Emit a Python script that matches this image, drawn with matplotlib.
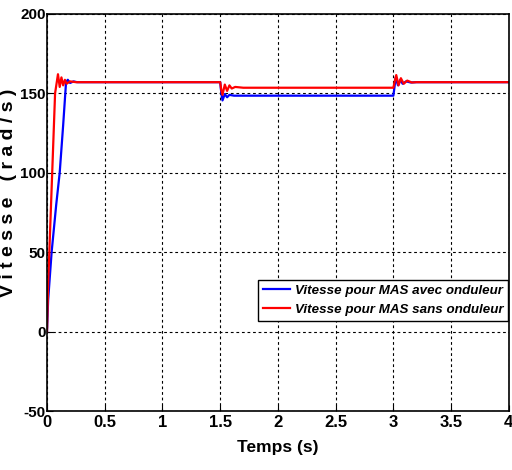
import matplotlib.pyplot as plt

# speed with inverter (blue)
t_avec = [0, 0.01, 0.04, 0.08, 0.11, 0.14, 0.165, 0.18, 0.2, 0.23, 0.26, 0.3,
          1.5, 1.51, 1.52, 1.54, 1.56, 1.58, 1.62, 1.7,
          3.0, 3.01, 3.02, 3.04, 3.06, 3.08, 3.11, 3.15, 3.2, 4.0]
v_avec = [0, 20, 50, 80, 100, 130, 157, 158.5, 156.5, 157.5, 157, 157,
          157, 150, 145.5, 149.5, 147.5, 149, 148.5, 148.5,
          148.5, 154, 160, 155, 158.5, 156, 157.5, 156.8, 157, 157]

# speed without inverter (red)
t_sans = [0, 0.01, 0.02, 0.05, 0.07, 0.095, 0.11, 0.125, 0.14, 0.155, 0.17, 0.2, 0.25,
          1.5, 1.51, 1.52, 1.54, 1.56, 1.58, 1.6, 1.63, 1.7,
          3.0, 3.01, 3.025, 3.045, 3.065, 3.09, 3.12, 3.16, 3.2, 4.0]
v_sans = [0, 30, 50, 110, 150, 162, 154, 160, 155, 158.5, 156, 157.5, 157,
          157, 152, 149, 155.5, 151.5, 155, 153, 154, 153.5,
          153.5, 157, 161.5, 155, 159.5, 156, 158, 156.8, 157, 157]

xticks = [0, 0.5, 1, 1.5, 2, 2.5, 3, 3.5, 4]
xlabels = ['0', '0.5', '1', '1.5', '2', '2.5', '3', '3.5', '4']
yticks = [-50, 0, 50, 100, 150, 200]

plt.rcParams['font.family'] = ['Liberation Sans', 'DejaVu Sans']
plt.rcParams['axes.unicode_minus'] = False

fig = plt.figure(figsize=(5.12, 4.7), dpi=100)
ax = fig.add_axes([0.0918, 0.1255, 0.902, 0.845])

ax.plot(t_avec, v_avec, color='blue', lw=1.6, label='Vitesse pour MAS avec onduleur')
ax.plot(t_sans, v_sans, color='red', lw=1.6, label='Vitesse pour MAS sans onduleur')

ax.set_xlim(0, 4)
ax.set_ylim(-50, 200)
ax.set_xticks(xticks, labels=xlabels)
ax.set_yticks(yticks)
ax.grid(True, color='black', linestyle=(0, (2.5, 2.5)), linewidth=0.8)
ax.tick_params(direction='in', length=4, pad=3)
ax.tick_params(axis='x', labelsize=12)
ax.tick_params(axis='y', labelsize=11, pad=1)
for lab in ax.get_xticklabels() + ax.get_yticklabels():
    lab.set_fontweight('bold')
for s in ax.spines.values():
    s.set_linewidth(1.2)

ax.set_xlabel('Temps (s)', fontsize=12.5, fontweight='bold', labelpad=7)
ax.set_ylabel('V i t e s s e   ( r a d / s )', fontsize=14, fontweight='bold')
ax.yaxis.set_label_coords(-0.066, 0.55)

leg = ax.legend(loc='upper right', bbox_to_anchor=(0.999, 0.33), fancybox=False,
                edgecolor='black', framealpha=1, handlelength=2.0,
                prop={'style': 'italic', 'weight': 'bold', 'size': 9.6},
                borderpad=0.35, labelspacing=0.5, handletextpad=0.4, borderaxespad=0)
leg.get_frame().set_linewidth(1.0)

fig.savefig('out.png', dpi=100)
